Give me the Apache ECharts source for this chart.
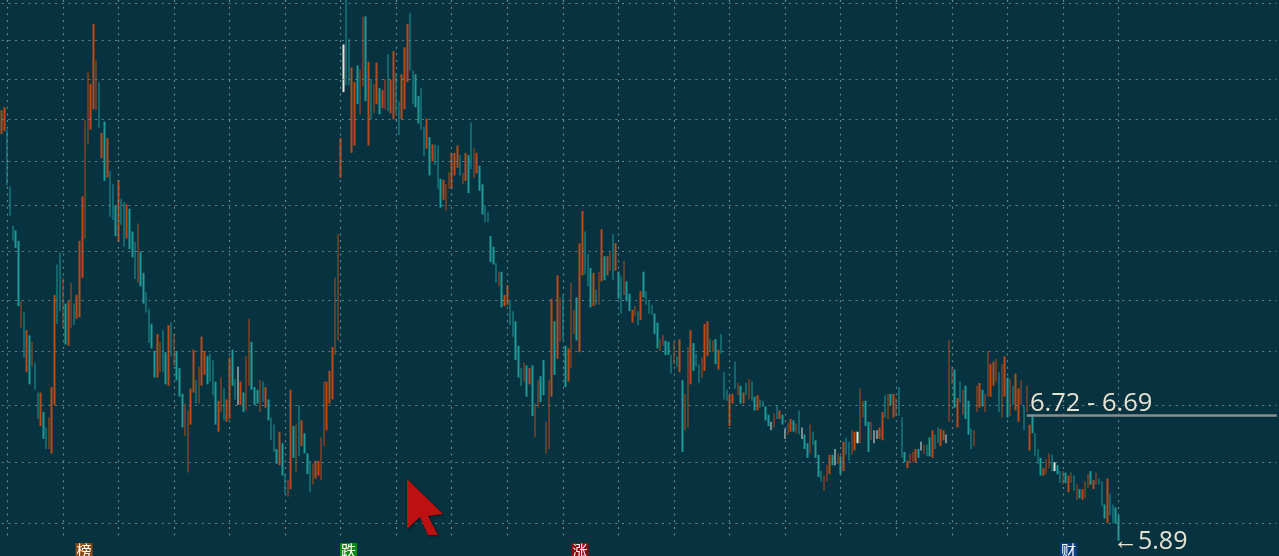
<!DOCTYPE html>
<html><head><meta charset="utf-8">
<style>html,body{margin:0;padding:0;background:#073340;overflow:hidden}#c{width:1279px;height:556px}</style>
<script src="https://cdn.jsdelivr.net/npm/echarts@6/dist/echarts.min.js"></script>
</head><body><div id="c"></div>
<script>
const highs = [
9.29,9.32,9.10,8.57,8.22,8.18,8.09,7.59,7.50,7.36,
7.32,7.27,7.11,6.89,6.89,6.75,6.64,6.71,6.93,7.64,
7.89,7.99,7.78,7.57,7.59,7.74,7.57,7.64,8.09,8.48,
9.19,9.67,9.55,10.18,9.79,9.57,9.07,9.18,9.02,8.71,
8.59,8.40,8.63,8.46,8.43,8.41,8.37,8.17,8.08,8.24,
8.00,7.82,7.66,7.53,7.41,7.20,7.33,7.27,7.36,7.19,
7.40,7.42,7.33,7.20,7.07,6.88,6.81,6.76,6.92,7.21,
6.98,7.08,7.31,7.20,7.16,7.18,7.13,6.97,6.83,7.00,
6.92,6.84,7.15,7.21,6.99,7.08,6.97,6.89,7.16,7.45,
7.27,6.93,6.91,6.98,6.97,6.93,6.84,6.71,6.66,6.49,
6.61,6.53,6.32,6.28,6.91,6.65,6.66,6.80,6.69,6.60,
6.46,6.41,6.39,6.41,6.41,6.57,6.97,6.97,7.05,7.23,
7.78,8.15,9.02,9.96,10.45,10.02,9.72,9.57,9.74,9.70,
10.26,10.26,9.78,9.60,9.55,9.77,9.51,9.49,9.60,9.86,
9.59,9.89,9.66,9.38,9.65,9.93,10.18,10.30,9.69,9.65,
9.43,9.51,9.13,9.21,9.03,8.96,8.96,8.95,8.64,8.63,
8.59,8.70,8.88,8.88,8.95,8.86,8.69,8.88,8.86,9.17,
8.92,8.88,8.76,8.59,8.40,8.34,8.13,8.04,7.90,7.83,
7.83,7.64,7.72,7.59,7.51,7.43,7.24,7.07,7.11,7.09,
7.07,7.09,6.81,6.98,7.01,7.13,6.68,6.98,7.61,7.43,
7.80,7.62,7.64,7.24,7.22,7.74,7.52,7.62,8.07,8.35,
8.17,7.98,7.86,7.82,7.68,7.83,8.19,7.96,7.96,8.00,
8.15,8.07,7.83,7.79,7.92,7.75,7.65,7.52,7.55,7.51,
7.67,7.83,7.67,7.60,7.56,7.49,7.42,7.29,7.32,7.28,
7.27,7.17,7.27,7.16,7.29,6.98,6.88,7.23,7.36,7.26,
7.18,7.10,7.15,7.41,7.43,7.29,7.28,7.29,7.21,7.33,
7.04,6.91,6.87,6.88,7.12,6.96,6.94,6.89,6.96,6.99,
6.97,6.86,6.87,6.84,6.83,6.79,6.73,6.68,6.74,6.80,
6.76,6.73,6.63,6.67,6.70,6.69,6.67,6.76,6.64,6.59,
6.53,6.66,6.61,6.55,6.45,6.34,6.31,6.38,6.45,6.45,
6.49,6.46,6.44,6.54,6.57,6.54,6.62,6.61,6.61,6.92,
6.83,6.83,6.68,6.68,6.62,6.62,6.64,6.75,6.87,6.88,
6.88,6.88,6.85,6.93,6.71,6.47,6.41,6.46,6.47,6.49,
6.49,6.54,6.52,6.52,6.57,6.62,6.59,6.64,6.63,6.62,
6.59,7.28,7.08,7.06,6.85,6.97,6.91,6.94,6.83,6.63,
6.62,6.94,6.96,6.91,6.88,7.20,7.10,7.12,7.14,7.04,
7.10,7.16,7.00,6.99,6.94,7.03,6.92,6.98,6.79,6.94,
6.66,6.73,6.60,6.49,6.43,6.36,6.42,6.46,6.45,6.40,
6.38,6.34,6.34,6.33,6.31,6.33,6.31,6.25,6.22,6.22,
6.27,6.32,6.34,6.28,6.33,6.29,6.27,6.12,6.29,6.19,
6.12,6.10,6.05];
const lows = [
9.06,9.09,8.58,8.31,8.09,8.03,7.55,7.38,7.15,7.04,
6.95,7.08,6.91,6.70,6.65,6.56,6.49,6.49,6.46,6.80,
7.41,7.51,7.38,7.25,7.24,7.38,7.40,7.45,7.46,7.78,
8.11,8.96,9.10,9.30,9.29,9.12,8.83,8.62,8.65,8.30,
8.27,8.13,8.08,8.23,8.04,8.11,8.02,7.95,7.77,7.74,
7.71,7.57,7.50,7.26,7.22,7.00,7.00,7.04,7.04,6.95,
6.94,7.16,7.09,6.98,6.86,6.64,6.58,6.33,6.66,6.89,
6.81,6.81,6.94,7.02,6.95,6.97,6.87,6.66,6.61,6.75,
6.69,6.68,6.70,6.94,6.84,6.80,6.80,6.75,6.76,6.94,
6.91,6.80,6.81,6.75,6.82,6.78,6.69,6.55,6.47,6.39,
6.38,6.31,6.19,6.17,6.22,6.43,6.33,6.44,6.51,6.46,
6.32,6.20,6.25,6.29,6.31,6.28,6.51,6.62,6.81,6.84,
7.17,7.28,8.65,9.47,9.54,9.54,8.88,8.95,9.35,9.25,
9.53,9.38,8.95,9.20,9.26,9.35,9.25,9.31,9.30,9.28,
9.26,9.20,9.26,9.05,9.20,9.30,9.57,9.69,9.35,9.32,
9.16,9.10,8.85,8.92,8.67,8.80,8.77,8.55,8.38,8.45,
8.35,8.55,8.55,8.67,8.74,8.67,8.59,8.62,8.51,8.73,
8.65,8.69,8.53,8.32,8.25,8.25,7.91,7.89,7.74,7.71,
7.54,7.55,7.56,7.40,7.31,7.13,7.00,6.94,6.97,6.86,
6.95,6.72,6.57,6.78,6.82,6.87,6.46,6.49,6.86,7.02,
7.14,7.27,7.28,6.93,6.97,7.07,7.33,7.28,7.19,7.80,
7.81,7.71,7.54,7.55,7.56,7.56,7.75,7.76,7.80,7.84,
7.76,7.84,7.61,7.49,7.64,7.59,7.51,7.42,7.47,7.40,
7.44,7.62,7.56,7.49,7.48,7.33,7.22,7.20,7.24,7.17,
7.17,7.03,7.10,7.08,7.04,6.47,6.62,6.64,6.95,7.05,
7.08,6.96,7.00,7.05,7.16,7.20,7.19,7.10,7.06,7.18,
6.84,6.83,6.65,6.81,6.92,6.87,6.81,6.81,6.87,6.84,
6.83,6.76,6.76,6.78,6.79,6.69,6.65,6.62,6.64,6.70,
6.70,6.66,6.56,6.59,6.61,6.61,6.60,6.59,6.56,6.49,
6.43,6.46,6.52,6.43,6.30,6.27,6.21,6.27,6.32,6.38,
6.38,6.39,6.32,6.34,6.45,6.41,6.45,6.48,6.53,6.53,
6.71,6.65,6.47,6.55,6.53,6.56,6.56,6.55,6.71,6.70,
6.80,6.71,6.72,6.72,6.43,6.40,6.36,6.40,6.40,6.40,
6.43,6.48,6.46,6.44,6.44,6.43,6.49,6.53,6.51,6.55,
6.53,6.68,6.95,6.78,6.64,6.82,6.73,6.70,6.59,6.49,
6.51,6.75,6.78,6.79,6.75,6.86,6.86,6.94,6.97,6.75,
6.71,6.86,6.71,6.72,6.80,6.76,6.68,6.80,6.62,6.75,
6.48,6.60,6.44,6.39,6.31,6.31,6.32,6.36,6.34,6.34,
6.32,6.26,6.25,6.26,6.20,6.26,6.21,6.15,6.16,6.15,
6.16,6.23,6.25,6.22,6.25,6.25,6.11,6.03,6.00,6.05,
6.00,6.00,5.89];
const dirs = (
"uudddddudu duddudduuu dduduuduuu uuuuududud dduddudddu dddddduudd ududdduuuu duuudddduu duuddfuduu dddududddd "+
"udduududud dduuuuuuuu uuufdduudu ududuuduud uudduuuddd dddududddu uuuuuduudd uudddddddu duudddddud uduudduuud "+
"uudduuuduu ddduduuduu duddudduud udddddduud ddududuuud dduuududud dduudududu dduddddfud udfuududfd dudddduuud "+
"fududduufu uddu ff uudu duuddduuuu dfuddudduu fuudududdd uuuduuuuud uududuuudu udddduuudf ddud uu dudu uuduudddud ddd"
).replace(/ /g,"").split("");
const gridPrices = [6.0,6.4,6.8,7.2,7.6,8.0,8.4,8.8,9.2,9.6,10.0,10.4];
const verticalEvery = 20, firstVertical = 2;
const totalSlots = 460;
const priceMin = 5.795, priceMax = 10.44, verticalFloor = 5.90;
const rangeLine = {from: 369, price: 6.725};
const labels = {range: "6.72 - 6.69", last: "←5.89"};
const tags = [
  {text:"榜", left:75.5, color:"#8a4a12"},
  {text:"跌", left:340, color:"#0c8a12"},
  {text:"涨", left:571.5, color:"#8a0c12"},
  {text:"财", left:1060, color:"#0c3c86"}
];

const UP="#bc4a18", DOWN="#1f9a96", FLAT="#e6e6da", GRID="#67838b";
const cats = Array.from({length: totalSlots}, (_,i)=>String(i));
const candles = highs.map((h,i)=>{
  const l = lows[i], d = dirs[i];
  const value = d==="d" ? [h,l,l,h] : [l,h,l,h];
  return d==="f" ? {value, itemStyle:{color:FLAT,color0:FLAT,borderColor:FLAT,borderColor0:FLAT}} : value;
});
const hLines = gridPrices.map(p=>[{xAxis:0,yAxis:p},{xAxis:totalSlots-1,yAxis:p}]);
const vLines = [];
for(let k=firstVertical;k<highs.length;k+=verticalEvery) vLines.push([{xAxis:k,yAxis:priceMax},{xAxis:k,yAxis:verticalFloor}]);

const chart = echarts.init(document.getElementById("c"),null,{renderer:"canvas"});
chart.setOption({
  animation:false,
  backgroundColor:"#073340",
  grid:{left:0.3,right:0.8,top:0,bottom:0},
  xAxis:{type:"category",data:cats,boundaryGap:true,show:false},
  yAxis:{type:"log",min:priceMin,max:priceMax,show:false,splitLine:{show:false}},
  series:[
    {type:"line",data:[],z:1,silent:true,
     markLine:{silent:true,symbol:"none",animation:false,label:{show:false},
       lineStyle:{color:GRID,width:1.2,type:[2,4.67]},
       data:hLines.concat(vLines)}},
    {type:"candlestick",data:candles,z:2,barWidth:2,clip:false,
     itemStyle:{color:UP,color0:DOWN,borderColor:UP,borderColor0:DOWN,borderWidth:0},
     markLine:{silent:true,symbol:"none",animation:false,label:{show:false},
       lineStyle:{color:"#8c8c8c",width:2.5,type:"solid"},
       data:[[{xAxis:rangeLine.from,yAxis:rangeLine.price},{xAxis:totalSlots-1,yAxis:rangeLine.price}]]}}
  ],
  graphic:[
    {type:"polygon",z:20,shape:{points:[[407,479],[443,514],[428,516],[438,535],[428,535],[420,517],[407,529]]},
     style:{fill:"#bd1010",shadowColor:"rgba(0,0,0,0.6)",shadowBlur:3,shadowOffsetX:1,shadowOffsetY:1}},
    {type:"text",z:20,left:1030,top:391,style:{text:labels.range,fill:"#e6e2d2",font:'25.5px "Open Sans"'}},
    {type:"text",z:20,left:1113,top:529,style:{text:labels.last,fill:"#e6e2d2",font:'25px "Open Sans"'}}
  ].concat(tags.map(t=>({type:"group",z:20,children:[
       {type:"rect",z:20,shape:{x:t.left,y:543,width:17,height:13},style:{fill:t.color}},
       {type:"text",z:21,style:{x:t.left+8.5,y:543,text:t.text,fill:"#fff",font:'15px "Noto Sans CJK SC"',textAlign:"center",textVerticalAlign:"top"}}
     ]})))
});
</script></body></html>
